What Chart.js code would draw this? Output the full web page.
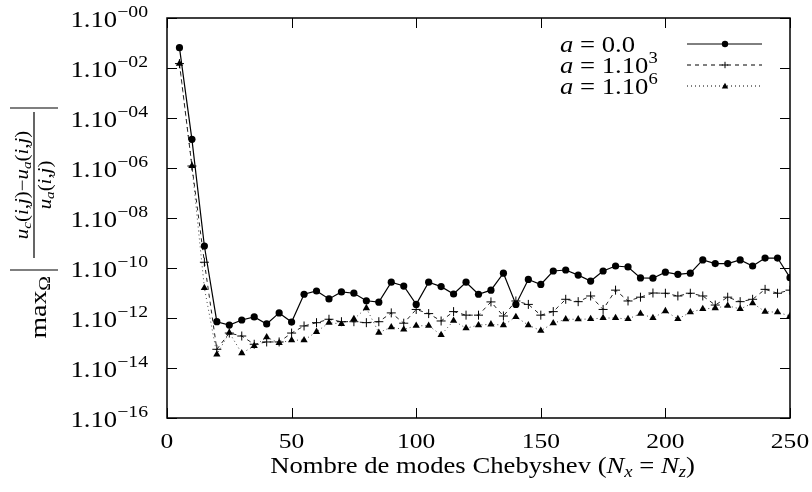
<!DOCTYPE html>
<html>
<head>
<meta charset="utf-8">
<script src="https://cdn.jsdelivr.net/npm/chart.js@4.4.1/dist/chart.umd.min.js"></script>
<style>
  html, body { margin: 0; padding: 0; background: #fff; }
  #wrap { width: 812px; height: 492px; }
</style>
</head>
<body>
<div id="wrap"><canvas id="chart"></canvas></div>
<script>
// Nombre de modes (N_x = N_z)
const modes = [5, 10, 15, 20, 25, 30, 35, 40, 45, 50, 55, 60, 65, 70, 75, 80, 85, 90, 95, 100,
  105, 110, 115, 120, 125, 130, 135, 140, 145, 150, 155, 160, 165, 170, 175, 180, 185, 190, 195, 200,
  205, 210, 215, 220, 225, 230, 235, 240, 245, 250];

// a = 0.0
const errA0 = [6.5e-2, 1.4e-5, 7.6e-10, 7.1e-13, 5.2e-13, 8.3e-13, 1.1e-12, 5.8e-13, 1.6e-12, 6.9e-13,
  8.9e-12, 1.2e-11, 5.8e-12, 1.1e-11, 9.8e-12, 4.9e-12, 4.3e-12, 2.7e-11, 1.9e-11, 3.5e-12,
  2.7e-11, 1.8e-11, 9.1e-12, 2.7e-11, 8.9e-12, 1.3e-11, 6.2e-11, 3.5e-12, 3.5e-11, 2.2e-11,
  7.6e-11, 8.3e-11, 5.2e-11, 3.0e-11, 7.6e-11, 1.2e-10, 1.1e-10, 4.0e-11, 3.9e-11, 6.8e-11,
  5.6e-11, 6.2e-11, 2.1e-10, 1.5e-10, 1.5e-10, 2.1e-10, 1.2e-10, 2.5e-10, 2.5e-10, 4.1e-11];

// a = 1.10^3
const errA3 = [1.5e-2, 1.2e-6, 1.7e-10, 5.6e-14, 2.5e-13, 1.9e-13, 8.9e-14, 1.1e-13, 1.1e-13, 2.5e-13,
  4.8e-13, 6.5e-13, 8.9e-13, 7.1e-13, 7.1e-13, 6.5e-13, 7.1e-13, 1.6e-12, 6.2e-13, 2.2e-12,
  1.5e-12, 7.6e-13, 1.8e-12, 1.3e-12, 1.3e-12, 4.4e-12, 1.2e-12, 4.8e-12, 3.5e-12, 1.3e-12,
  1.8e-12, 5.6e-12, 4.5e-12, 7.6e-12, 2.2e-12, 1.3e-11, 4.8e-12, 6.8e-12, 1.0e-11, 9.8e-12,
  7.6e-12, 9.8e-12, 7.6e-12, 3.3e-12, 6.8e-12, 4.5e-12, 5.6e-12, 1.4e-11, 9.8e-12, 1.3e-11];

// a = 1.10^6
const errA6 = [1.5e-2, 1.2e-6, 1.6e-11, 3.5e-14, 2.6e-13, 3.9e-14, 7.6e-14, 1.7e-13, 1.0e-13, 1.3e-13,
  1.3e-13, 2.8e-13, 6.5e-13, 5.8e-13, 9.1e-13, 2.5e-12, 2.6e-13, 4.3e-13, 3.5e-13, 4.9e-13,
  4.9e-13, 2.1e-13, 7.8e-13, 3.9e-13, 5.2e-13, 5.6e-13, 5.2e-13, 1.1e-12, 5.2e-13, 3.1e-13,
  6.2e-13, 8.9e-13, 8.9e-13, 9.1e-13, 1.0e-12, 1.0e-12, 9.1e-13, 1.5e-12, 1.0e-12, 1.9e-12,
  9.1e-13, 1.7e-12, 2.3e-12, 2.5e-12, 3.1e-12, 2.3e-12, 3.9e-12, 1.8e-12, 1.7e-12, 1.2e-12];

const yTicks = [1e0, 1e-2, 1e-4, 1e-6, 1e-8, 1e-10, 1e-12, 1e-14, 1e-16];
const yTickExp = ['00', '02', '04', '06', '08', '10', '12', '14', '16'];
const xTicks = [0, 50, 100, 150, 200, 250];
const legendValues = [['0.0', ''], ['1.10', '3'], ['1.10', '6']];

const SERIF = '"Liberation Serif", "DejaVu Serif", serif';
const R = n => n + 'px ' + SERIF;
const I = n => 'italic ' + n + 'px ' + SERIF;
const STRETCH = 1.16; // latex fonts run wider than Times

function pts(arr) {
  return modes.map((n, i) => ({ x: n, y: arr[i] }));
}

// draws a list of text pieces one after another (for sub/superscripts)
function rich(ctx, segs, x, y, align) {
  let w = 0;
  segs.forEach(s => { ctx.font = s.f; s.w = ctx.measureText(s.t).width; w += s.w; });
  const full = w * STRETCH;
  const start = align === 'center' ? x - full / 2 : align === 'right' ? x - full : x;
  ctx.save();
  ctx.translate(start, y);
  ctx.scale(STRETCH, 1);
  ctx.textAlign = 'left';
  ctx.textBaseline = 'alphabetic';
  let cx = 0;
  segs.forEach(s => {
    ctx.font = s.f;
    ctx.fillText(s.t, cx, s.dy || 0);
    cx += s.w;
  });
  ctx.restore();
  return full;
}

function drawMarker(ctx, kind, x, y, r) {
  ctx.beginPath();
  if (kind === 'circle') {
    ctx.arc(x, y, r, 0, Math.PI * 2);
    ctx.fill();
  } else if (kind === 'cross') {
    ctx.moveTo(x - r, y); ctx.lineTo(x + r, y);
    ctx.moveTo(x, y - r); ctx.lineTo(x, y + r);
    ctx.stroke();
  } else {
    ctx.moveTo(x, y - r);
    ctx.lineTo(x + r, y + r * 0.8);
    ctx.lineTo(x - r, y + r * 0.8);
    ctx.closePath();
    ctx.fill();
  }
}

const decor = {
  id: 'decor',
  afterDraw(chart) {
    const ctx = chart.ctx;
    const a = chart.chartArea;
    const xs = chart.scales.x, ys = chart.scales.y;
    ctx.save();
    ctx.fillStyle = '#000';
    ctx.strokeStyle = '#000';

    // frame
    ctx.lineWidth = 1.5;
    ctx.strokeRect(a.left, a.top, a.right - a.left, a.bottom - a.top);

    // inward ticks
    ctx.lineWidth = 1;
    ctx.beginPath();
    xTicks.forEach(v => {
      const px = Math.round(xs.getPixelForValue(v)) + 0.5;
      ctx.moveTo(px, a.bottom); ctx.lineTo(px, a.bottom - 10);
      ctx.moveTo(px, a.top); ctx.lineTo(px, a.top + 10);
    });
    yTicks.forEach(v => {
      const py = Math.round(ys.getPixelForValue(v)) + 0.5;
      ctx.moveTo(a.left, py); ctx.lineTo(a.left + 10, py);
      ctx.moveTo(a.right, py); ctx.lineTo(a.right - 10, py);
    });
    ctx.stroke();

    // x tick labels
    xTicks.forEach(v => {
      rich(ctx, [{ t: String(v), f: R(22) }], xs.getPixelForValue(v), a.bottom + 30, 'center');
    });

    // y tick labels 1.10^-xx
    yTicks.forEach((v, i) => {
      const py = ys.getPixelForValue(v);
      rich(ctx, [
        { t: '1.10', f: R(23) },
        { t: '\u2212' + yTickExp[i], f: R(17), dy: -10 }
      ], a.left - 19, py + 9, 'right');
    });

    // x axis title
    rich(ctx, [
      { t: 'Nombre de modes Chebyshev (', f: R(23) },
      { t: 'N', f: I(23) },
      { t: 'x', f: I(16), dy: 4 },
      { t: ' = ', f: R(23) },
      { t: 'N', f: I(23) },
      { t: 'z', f: I(16), dy: 4 },
      { t: ')', f: R(23) }
    ], (a.left + a.right) / 2 + 4, 473, 'center');

    // y axis title, rotated
    ctx.save();
    ctx.translate(34, 185);
    ctx.rotate(-Math.PI / 2);
    ctx.lineWidth = 1.2;
    ctx.beginPath();
    ctx.moveTo(-73, 0); ctx.lineTo(73, 0);
    ctx.moveTo(77, -24); ctx.lineTo(77, 24);
    ctx.moveTo(-85, -24); ctx.lineTo(-85, 24);
    ctx.stroke();
    const num = [
      { t: 'u', f: I(18) }, { t: 'c', f: I(13), dy: 3 },
      { t: '(', f: R(18) }, { t: 'i', f: I(18) }, { t: ',', f: R(18) }, { t: 'j', f: I(18) }, { t: ')', f: R(18) },
      { t: '\u2212', f: R(18) },
      { t: 'u', f: I(18) }, { t: 'a', f: I(13), dy: 3 },
      { t: '(', f: R(18) }, { t: 'i', f: I(18) }, { t: ',', f: R(18) }, { t: 'j', f: I(18) }, { t: ')', f: R(18) }
    ];
    rich(ctx, num, 0, -6, 'center');
    const den = [
      { t: 'u', f: I(18) }, { t: 'a', f: I(13), dy: 3 },
      { t: '(', f: R(18) }, { t: 'i', f: I(18) }, { t: ',', f: R(18) }, { t: 'j', f: I(18) }, { t: ')', f: R(18) }
    ];
    rich(ctx, den, 0, 17, 'center');
    rich(ctx, [
      { t: 'max', f: R(24) },
      { t: '\u03A9', f: R(17), dy: 4 }
    ], -91, 12, 'right');
    ctx.restore();

    // legend
    const rows = [
      { base: 52, dash: [], kind: 'circle' },
      { base: 73, dash: [4, 4], kind: 'cross' },
      { base: 94, dash: [1, 3], kind: 'triangle' }
    ];
    rows.forEach((row, i) => {
      const segs = [
        { t: 'a', f: I(23) },
        { t: ' = ' + legendValues[i][0], f: R(23) }
      ];
      if (legendValues[i][1]) segs.push({ t: legendValues[i][1], f: R(16), dy: -10 });
      rich(ctx, segs, 560, row.base, 'left');
      const ly = row.base - 8;
      ctx.lineWidth = 1;
      ctx.setLineDash(row.dash);
      ctx.beginPath();
      ctx.moveTo(687, ly); ctx.lineTo(762, ly);
      ctx.stroke();
      ctx.setLineDash([]);
      drawMarker(ctx, row.kind, 725, ly, 3.2);
    });

    ctx.restore();
  }
};

const config = {
  type: 'line',
  data: {
    datasets: [
      {
        label: 'a = 0.0',
        data: pts(errA0),
        borderColor: '#000',
        backgroundColor: '#000',
        borderWidth: 1.2,
        pointStyle: 'circle',
        pointRadius: 3.6,
        pointBorderWidth: 0,
        order: 1
      },
      {
        label: 'a = 1.10^3',
        data: pts(errA3),
        borderColor: '#222',
        backgroundColor: '#000',
        borderWidth: 1,
        borderDash: [4, 4],
        pointStyle: 'cross',
        pointRadius: 4.5,
        pointBorderWidth: 1,
        pointBorderColor: '#000',
        order: 2
      },
      {
        label: 'a = 1.10^6',
        data: pts(errA6),
        borderColor: '#444',
        backgroundColor: '#000',
        borderWidth: 1,
        borderDash: [1, 3],
        pointStyle: 'triangle',
        pointRadius: 4.2,
        pointBorderWidth: 0,
        order: 3
      }
    ]
  },
  options: {
    responsive: true,
    maintainAspectRatio: false,
    animation: false,
    devicePixelRatio: 1,
    layout: { padding: { left: 0, right: 22, top: 18, bottom: 0 } },
    plugins: {
      legend: { display: false },
      tooltip: { enabled: false },
      title: { display: false }
    },
    scales: {
      x: {
        type: 'linear',
        min: 0,
        max: 250,
        afterFit: s => { s.height = 74; },
        afterBuildTicks: s => { s.ticks = xTicks.map(v => ({ value: v })); },
        grid: { display: false },
        border: { display: false },
        ticks: { display: false }
      },
      y: {
        type: 'logarithmic',
        min: 1e-16,
        max: 1,
        afterFit: s => { s.width = 167; },
        afterBuildTicks: s => { s.ticks = yTicks.map(v => ({ value: v })); },
        grid: { display: false },
        border: { display: false },
        ticks: { display: false }
      }
    }
  },
  plugins: [decor]
};

const errChart = new Chart(document.getElementById('chart'), config);
</script>
</body>
</html>
